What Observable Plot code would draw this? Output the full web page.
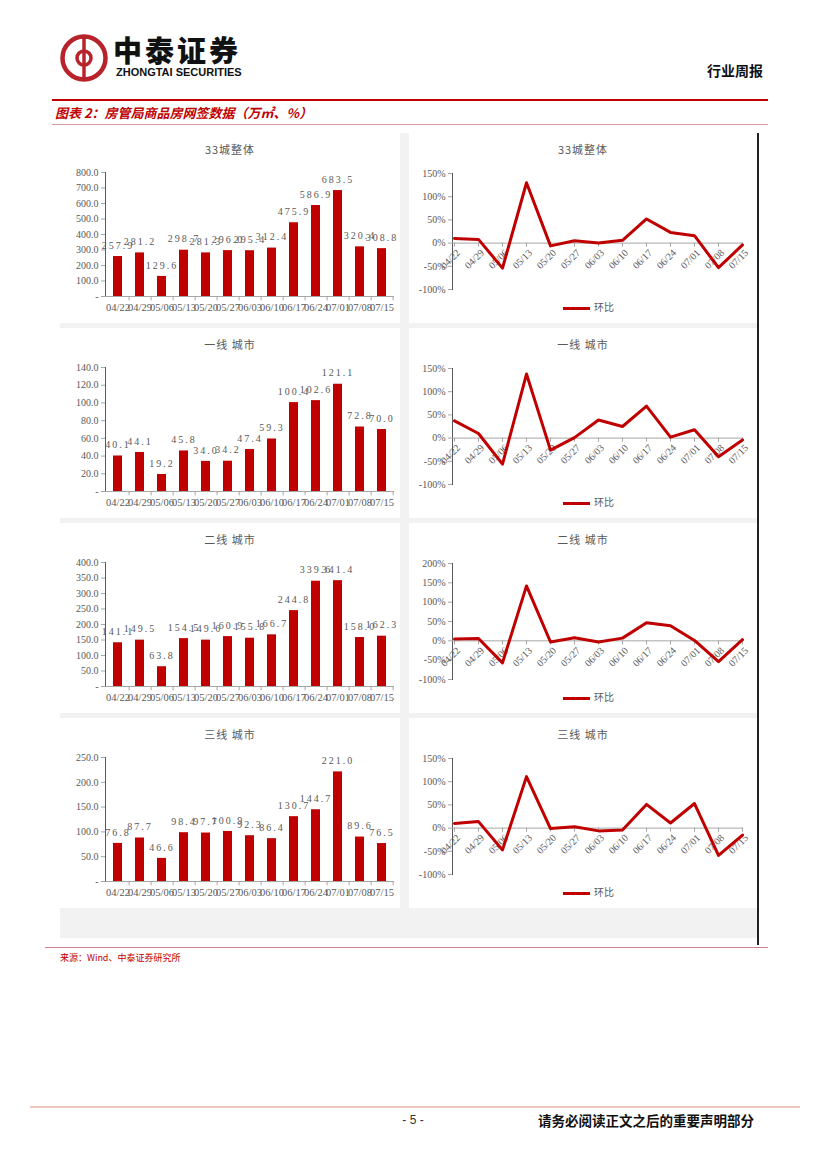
<!DOCTYPE html>
<html><head><meta charset="utf-8">
<script src="https://cdn.jsdelivr.net/npm/d3@7"></script>
<script src="https://cdn.jsdelivr.net/npm/@observablehq/plot@0.6"></script>
<style>
body{margin:0;background:#fff;font-family:"Noto Sans CJK SC",sans-serif;}
#page{position:relative;width:827px;height:1169px;overflow:hidden;background:#fff;}
.abs{position:absolute;}
.panel{position:absolute;background:#fff;}
.ptitle{position:absolute;left:0;right:0;text-align:center;font-size:11px;color:#595959;top:8px;line-height:16px;letter-spacing:1px;}
.panel svg{position:absolute;left:0;top:0;overflow:visible;}
.panel g[aria-label^="y-axis"] path,.panel g[aria-label^="y-axis"] line{stroke:#a6a6a6;}
.legend{position:absolute;font-size:10px;color:#595959;line-height:14px;}
.legend span.ln{display:inline-block;width:27px;height:3px;background:#C00000;vertical-align:middle;margin-right:4px;}
</style></head>
<body><div id="page">
  <!-- header -->
  <svg class="abs" style="left:58px;top:32px" width="52" height="52" viewBox="0 0 52 52">
    <circle cx="26" cy="26" r="21.5" fill="none" stroke="#b8232b" stroke-width="4.5"/>
    <line x1="26" y1="6" x2="26" y2="46" stroke="#b8232b" stroke-width="3.5"/>
    <path d="M26 19 A7 7 0 1 0 26 33" fill="none" stroke="#b8232b" stroke-width="3.5"/>
    <path d="M26 19 A7 7 0 1 1 26 33" fill="none" stroke="#b8232b" stroke-width="3.5"/>
  </svg>
  <div class="abs" style="left:113px;top:35px;font-size:29px;font-weight:900;line-height:29px;letter-spacing:3px;color:#111;">中泰证券</div>
  <div class="abs" style="left:116px;top:66px;font-family:'Liberation Sans',Arial,sans-serif;font-size:11px;font-weight:bold;line-height:12px;color:#111;">ZHONGTAI SECURITIES</div>
  <div class="abs" style="left:707px;top:61px;font-size:14px;font-weight:bold;line-height:18px;color:#111;">行业周报</div>
  <div class="abs" style="left:52px;top:99px;width:716px;height:2px;background:#c00000;"></div>
  <div class="abs" style="left:55px;top:104px;font-size:13px;font-weight:bold;font-style:italic;line-height:18px;color:#c00000;">图表 2：房管局商品房网签数据（万㎡、%）</div>
  <div class="abs" style="left:52px;top:124px;width:716px;height:1px;background:#d79a9a;"></div>
  <!-- chart area -->
  <div class="abs" style="left:60px;top:133px;width:698px;height:805px;background:#f2f2f2;"></div>
  <div class="abs" style="left:757px;top:133px;width:1.5px;height:812px;background:#222;"></div>
  <div id="charts"></div>
  <!-- source -->
  <div class="abs" style="left:45px;top:947px;width:723px;height:1px;background:#d27f86;"></div>
  <div class="abs" style="left:60px;top:951px;font-size:9px;line-height:14px;color:#c00000;">来源：Wind、中泰证券研究所</div>
  <!-- footer -->
  <div class="abs" style="left:30px;top:1106px;width:770px;height:2px;background:#ecc9bd;"></div>
  <div class="abs" style="left:398px;top:1112px;width:30px;text-align:center;font-family:'Liberation Sans',Arial,sans-serif;font-size:12px;line-height:16px;color:#333;">- 5 -</div>
  <div class="abs" style="left:538px;top:1111px;font-size:13.5px;font-weight:bold;line-height:18px;color:#111;">请务必阅读正文之后的重要声明部分</div>
</div>
<script>
// ---- data ----
const dates = ["04/22","04/29","05/06","05/13","05/20","05/27","06/03","06/10","06/17","06/24","07/01","07/08","07/15"];
const panelTitles = ["33城整体","一线 城市","二线 城市","三线 城市"];
const area33 = [257.9,281.2,129.6,298.7,281.3,296.0,295.4,312.4,475.9,586.9,683.5,320.4,308.8];
const areaT1 = [40.1,44.1,19.2,45.8,34.0,34.2,47.4,59.3,100.4,102.6,121.1,72.8,70.0];
const areaT2 = [141.1,149.5,63.8,154.5,149.6,160.9,155.8,166.7,244.8,339.6,341.4,158.0,162.3];
const areaT3 = [76.8,87.7,46.6,98.4,97.7,100.9,92.3,86.4,130.7,144.7,221.0,89.6,76.5];
const qoq33 = [10,8,-54,130,-6,5,0,6,52,23,16,-53,-4];
const qoqT1 = [37,10,-56,138,-26,1,39,25,69,2,18,-40,-4];
const qoqT2 = [5,6,-57,142,-3,8,-3,7,47,39,1,-54,3];
const qoqT3 = [10,14,-47,111,-1,3,-6,-4,51,11,53,-59,-15];
const barMax = [800,140,400,250];
const barStep = [100,20,50,50];
const lineMax = [150,150,200,150];
const legendLabel = "环比";

const barSeries = [area33, areaT1, areaT2, areaT3];
const lineSeries = [qoq33, qoqT1, qoqT2, qoqT3];
const rowTops = [133, 328, 523, 718];
const RED = "#C00000", GRAY = "#595959", AX = "#a6a6a6";
const SERIF = "'Liberation Serif','Times New Roman',serif";

function barChart(vals, max, step) {
  const data = dates.map((d, i) => ({date: d, value: vals[i]}));
  const W = 340, H = 190, ml = 45, mr = 6;
  const stepPx = (W - ml - mr) / dates.length;
  const svg = Plot.plot({
    width: W, height: H, marginTop: 39, marginBottom: 27, marginLeft: ml, marginRight: mr,
    style: {fontFamily: SERIF, fontSize: "10px", color: GRAY, background: "transparent"},
    x: {domain: dates, paddingInner: 0.6, paddingOuter: 0.3, tickSize: 0, tickPadding: 7, label: null},
    y: {domain: [0, max], ticks: d3.range(0, max + step / 2, step), tickFormat: d => d === 0 ? "-" : d.toFixed(1),
        tickSize: 4, tickPadding: 3, line: true, label: null},
    marks: [
      Plot.barY(data, {x: "date", y: "value", fill: RED}),
      Plot.ruleY([0], {stroke: AX}),
      Plot.ruleX(dates, {x: d => d, y1: 0, y2: -max * 0.035, dx: stepPx / 2, stroke: AX}),
      Plot.text(data, {x: "date", y: "value", text: d => d.value.toFixed(1), dy: -11, fill: GRAY, fontSize: 10})
    ]
  });
  d3.select(svg).selectAll('g[aria-label="text"] text').style("letter-spacing", "2px");
  d3.select(svg).selectAll('g[aria-label="x-axis tick label"] text').style("font-size", "10.5px");
  return svg;
}

function lineChart(vals, max) {
  const data = dates.map((d, i) => ({date: d, value: vals[i]}));
  const W = 348, H = 190;
  const span = max + 100;
  return Plot.plot({
    width: W, height: H, marginTop: 40, marginBottom: 34, marginLeft: 43, marginRight: 14,
    style: {fontFamily: SERIF, fontSize: "10px", color: GRAY, background: "transparent"},
    x: {type: "point", domain: dates, padding: 0, axis: null},
    y: {domain: [-100, max], ticks: d3.range(-100, max + 1, 50), tickFormat: d => d + "%",
        tickSize: 4, tickPadding: 3, line: true, label: null},
    marks: [
      Plot.ruleY([0], {stroke: AX}),
      Plot.ruleX(dates, {x: d => d, y1: 0, y2: -span * 0.035, stroke: AX}),
      Plot.text(dates, {x: d => d, y: 0, text: d => d, rotate: -45, textAnchor: "end", dx: 4, dy: 8, fill: GRAY, fontSize: 10}),
      Plot.line(data, {x: "date", y: "value", stroke: RED, strokeWidth: 3, strokeLinejoin: "round"})
    ]
  });
}

const host = document.getElementById("charts");
rowTops.forEach((top, r) => {
  const lp = document.createElement("div");
  lp.className = "panel";
  Object.assign(lp.style, {left: "60px", top: top + "px", width: "340px", height: "190px"});
  lp.appendChild(barChart(barSeries[r], barMax[r], barStep[r]));
  const lt = document.createElement("div");
  lt.className = "ptitle"; lt.textContent = panelTitles[r];
  lp.appendChild(lt);
  host.appendChild(lp);
  const rp = document.createElement("div");
  rp.className = "panel";
  Object.assign(rp.style, {left: "409px", top: top + "px", width: "348px", height: "190px"});
  rp.appendChild(lineChart(lineSeries[r], lineMax[r]));
  const rt = document.createElement("div");
  rt.className = "ptitle"; rt.textContent = panelTitles[r];
  rp.appendChild(rt);
  const lg = document.createElement("div");
  lg.className = "legend";
  Object.assign(lg.style, {left: "154px", top: "167px"});
  lg.innerHTML = '<span class="ln"></span>' + legendLabel;
  rp.appendChild(lg);
  host.appendChild(rp);
});
</script>
</body></html>
